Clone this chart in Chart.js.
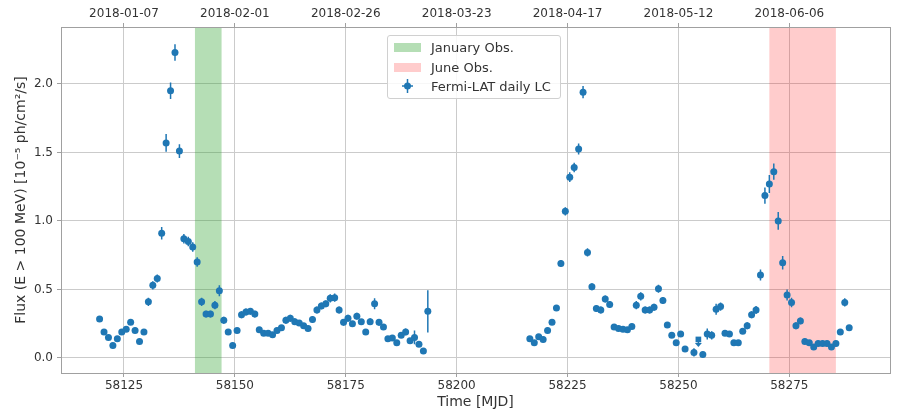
<!DOCTYPE html>
<html lang="en">
<head>
  <meta charset="UTF-8">
  <title>Fermi-LAT daily light curve</title>
  <script src="https://cdn.jsdelivr.net/npm/chart.js"></script>
  <style>
    body { margin: 0; background: #fff; }
    #wrap { position: relative; width: 900px; height: 420px; }
    #legend {
      position: absolute; left: 387px; top: 35px; width: 172px; height: 62px;
      border: 1px solid #d0d0d0; border-radius: 3px; background: rgba(255,255,255,0.85);
      font-family: "DejaVu Sans", sans-serif; font-size: 13px; color: #333;
    }
    .row { position: absolute; left: 6px; height: 20px; display: flex; align-items: center; white-space: nowrap; }
    .patch { width: 27px; height: 9px; margin-right: 10px; }
    .icon { width: 27px; height: 14px; margin-right: 10px; }
  </style>
</head>
<body>
  <div id="wrap">
    <canvas id="lc" width="900" height="420"></canvas>
    <div id="legend">
      <div class="row" style="top:1px"><span class="patch" style="background:rgba(44,160,44,0.35)"></span>January Obs.</div>
      <div class="row" style="top:21px"><span class="patch" style="background:rgba(255,0,0,0.2)"></span>June Obs.</div>
      <div class="row" style="top:40px">
        <svg class="icon" viewBox="0 0 27 14">
          <line x1="13.5" y1="0" x2="13.5" y2="14" stroke="#1f77b4" stroke-width="1.5"/>
          <line x1="8" y1="7" x2="19" y2="7" stroke="#1f77b4" stroke-width="1.5"/>
          <circle cx="13.5" cy="7" r="3.5" fill="#1f77b4"/>
        </svg>Fermi-LAT daily LC</div>
    </div>
  </div>

  <script>
    // daily bins, first bin centred on this MJD
    const firstDay = 58119.5;

    // flux per day (1e-5 ph/cm2/s), null = no detection / no data
    const flux = [
      0.285, 0.19, 0.15, 0.09, 0.14, 0.19, 0.21, 0.26, 0.20, 0.12,
      0.19, 0.41, 0.53, 0.58, 0.91, 1.57, 1.95, 2.23, 1.51, 0.87,
      0.85, 0.81, 0.70, 0.41, 0.32, 0.32, 0.385, 0.49, 0.275, 0.19,
      0.09, 0.20, 0.315, 0.335, 0.34, 0.32, 0.205, 0.18, 0.18, 0.17,
      0.20, 0.22, 0.275, 0.29, 0.265, 0.255, 0.235, 0.215, 0.28, 0.35,
      0.38, 0.395, 0.435, 0.44, 0.35, 0.26, 0.29, 0.25, 0.305, 0.265,
      0.19, 0.265, 0.395, 0.26, 0.225, 0.14, 0.145, 0.11, 0.165, 0.19,
      0.125, 0.15, 0.10, 0.05, 0.34, null, null, null, null, null,
      null, null, null, null, null, null, null, null, null, null,
      null, null, null, null, null, null, null, 0.14, 0.11, 0.155,
      0.135, 0.20, 0.26, 0.365, 0.69, 1.07, 1.32, 1.39, 1.525, 1.94,
      0.77, 0.52, 0.36, 0.35, 0.43, 0.39, 0.225, 0.215, 0.21, 0.205,
      0.23, 0.385, 0.45, 0.35, 0.35, 0.37, 0.505, 0.42, 0.24, 0.165,
      0.11, 0.175, 0.065, null, 0.04, null, 0.025, 0.175, 0.165, 0.355,
      0.375, 0.18, 0.175, 0.11, 0.11, 0.195, 0.235, 0.315, 0.35, 0.605,
      1.185, 1.27, 1.36, 1.00, 0.695, 0.46, 0.405, 0.235, 0.27, 0.12,
      0.11, 0.08, 0.105, 0.105, 0.105, 0.08, 0.105, 0.19, 0.405, 0.22
    ];

    // 1-sigma flux errors, same order as flux
    const fluxErr = [
      0.02, 0.02, 0.02, 0.02, 0.02, 0.02, 0.02, 0.02, 0.02, 0.02,
      0.02, 0.03, 0.03, 0.03, 0.045, 0.065, 0.06, 0.06, 0.05, 0.035,
      0.035, 0.035, 0.035, 0.03, 0.025, 0.025, 0.03, 0.04, 0.025, 0.02,
      0.02, 0.02, 0.025, 0.025, 0.025, 0.025, 0.02, 0.02, 0.02, 0.02,
      0.02, 0.02, 0.025, 0.025, 0.025, 0.02, 0.02, 0.02, 0.025, 0.025,
      0.025, 0.025, 0.03, 0.03, 0.025, 0.025, 0.025, 0.02, 0.025, 0.02,
      0.02, 0.025, 0.04, 0.025, 0.02, 0.02, 0.02, 0.02, 0.02, 0.025,
      0.02, 0.05, 0.02, 0.02, 0.155, null, null, null, null, null,
      null, null, null, null, null, null, null, null, null, null,
      null, null, null, null, null, null, null, 0.02, 0.02, 0.02,
      0.02, 0.02, 0.02, 0.02, 0.025, 0.03, 0.035, 0.035, 0.04, 0.045,
      0.03, 0.025, 0.025, 0.025, 0.025, 0.025, 0.02, 0.02, 0.02, 0.02,
      0.02, 0.03, 0.03, 0.025, 0.025, 0.025, 0.03, 0.025, 0.02, 0.02,
      0.02, 0.02, 0.02, null, 0.03, null, 0.02, 0.04, 0.03, 0.04,
      0.03, 0.02, 0.02, 0.02, 0.02, 0.02, 0.025, 0.025, 0.03, 0.04,
      0.06, 0.065, 0.06, 0.065, 0.05, 0.04, 0.035, 0.025, 0.025, 0.02,
      0.02, 0.02, 0.02, 0.02, 0.02, 0.02, 0.02, 0.02, 0.03, 0.02
    ];

    // upper limits
    const ulDay = [58254.5];
    const ulFlux = [0.135];

    // observation windows
    const janObs = [58141, 58147];
    const junObs = [58270.5, 58285.5];

    const xTicks = [58125, 58150, 58175, 58200, 58225, 58250, 58275];
    const yTicks = [0.0, 0.5, 1.0, 1.5, 2.0];

    const blue = '#1f77b4';
    const txt = '#333333';
    const gridCol = '#cbcbcb';

    function mjdToDate(mjd) {
      const d = new Date((mjd - 40587) * 86400000);
      return d.toISOString().slice(0, 10);
    }

    const points = [];
    const errs = [];
    flux.forEach((f, i) => {
      if (f === null) return;
      points.push({ x: firstDay + i, y: f });
      errs.push(fluxErr[i]);
    });
    const ulPoints = ulDay.map((d, i) => ({ x: d, y: ulFlux[i] }));

    // shaded windows, error bars, upper-limit arrows, frame
    const extras = {
      id: 'extras',
      beforeDatasetsDraw(chart) {
        const { ctx, chartArea: a, scales: { x, y } } = chart;
        ctx.save();
        [[janObs, 'rgba(44,160,44,0.35)'], [junObs, 'rgba(255,0,0,0.2)']].forEach(([w, c]) => {
          const x0 = x.getPixelForValue(w[0]);
          const x1 = x.getPixelForValue(w[1]);
          ctx.fillStyle = c;
          ctx.fillRect(x0, a.top, x1 - x0, a.bottom - a.top);
        });
        ctx.strokeStyle = blue;
        ctx.lineWidth = 1.5;
        ctx.beginPath();
        points.forEach((p, i) => {
          const px = x.getPixelForValue(p.x);
          ctx.moveTo(px, y.getPixelForValue(p.y - errs[i]));
          ctx.lineTo(px, y.getPixelForValue(p.y + errs[i]));
          const py = y.getPixelForValue(p.y);
          ctx.moveTo(x.getPixelForValue(p.x - 0.5), py);
          ctx.lineTo(x.getPixelForValue(p.x + 0.5), py);
        });
        ctx.stroke();
        ulPoints.forEach(p => {
          const px = x.getPixelForValue(p.x);
          const py = y.getPixelForValue(p.y);
          const tip = y.getPixelForValue(p.y - 0.055);
          ctx.beginPath();
          ctx.moveTo(px, py);
          ctx.lineTo(px, tip - 3);
          ctx.stroke();
          ctx.fillStyle = blue;
          ctx.beginPath();
          ctx.moveTo(px - 3.5, tip - 4);
          ctx.lineTo(px + 3.5, tip - 4);
          ctx.lineTo(px, tip);
          ctx.closePath();
          ctx.fill();
        });
        ctx.restore();
      },
      afterDraw(chart) {
        const { ctx, chartArea: a } = chart;
        ctx.save();
        ctx.strokeStyle = '#a0a0a0';
        ctx.lineWidth = 1;
        ctx.strokeRect(Math.round(a.left) + 0.5, Math.round(a.top) + 0.5,
          Math.round(a.right - a.left), Math.round(a.bottom - a.top));
        ctx.restore();
      }
    };

    const font = { family: 'DejaVu Sans', size: 12 };
    const xMin = 58110.8, xMax = 58297.7;

    new Chart(document.getElementById('lc'), {
      type: 'scatter',
      data: {
        datasets: [{
          label: 'Fermi-LAT daily LC',
          data: points,
          pointRadius: 3.5,
          pointHoverRadius: 3.5,
          backgroundColor: blue,
          borderWidth: 0
        }, {
          label: 'upper limits',
          data: ulPoints,
          pointStyle: 'rect',
          pointRadius: 4,
          backgroundColor: blue,
          borderWidth: 0
        }]
      },
      options: {
        responsive: false,
        animation: false,
        devicePixelRatio: 1,
        layout: { padding: { left: 0, right: 10, top: 0, bottom: 0 } },
        plugins: { legend: { display: false }, tooltip: { enabled: false } },
        scales: {
          x: {
            type: 'linear', position: 'bottom', min: xMin, max: xMax,
            afterBuildTicks: s => { s.ticks = xTicks.map(v => ({ value: v })); },
            afterFit: s => { s.height = 47; },
            ticks: { font, color: txt, padding: 2, maxRotation: 0, callback: v => String(v) },
            grid: { color: gridCol, lineWidth: 1, tickLength: 4, tickColor: '#a0a0a0' },
            border: { color: '#a0a0a0' },
            title: { display: true, text: 'Time [MJD]', color: txt,
              font: { family: 'DejaVu Sans', size: 14 }, padding: { top: 0, bottom: 9 } }
          },
          x2: {
            type: 'linear', position: 'top', min: xMin, max: xMax,
            afterBuildTicks: s => { s.ticks = xTicks.map(v => ({ value: v })); },
            afterFit: s => { s.height = 27; },
            ticks: { font, color: txt, padding: 2, maxRotation: 0, callback: v => mjdToDate(v) },
            grid: { drawOnChartArea: false, tickLength: 4, tickColor: '#a0a0a0' },
            border: { color: '#a0a0a0' }
          },
          y: {
            min: -0.11, max: 2.416,
            afterBuildTicks: s => { s.ticks = yTicks.map(v => ({ value: v })); },
            afterFit: s => { s.width = 61; },
            ticks: { font, color: txt, padding: 4, callback: v => v.toFixed(1) },
            grid: { color: gridCol, lineWidth: 1, tickLength: 4, tickColor: '#a0a0a0' },
            border: { color: '#a0a0a0' },
            title: { display: true, text: 'Flux (E > 100 MeV) [10\u207B\u2075 ph/cm\u00B2/s]', color: txt,
              font: { family: 'DejaVu Sans', size: 14 }, padding: { top: 13, bottom: 0 } }
          }
        }
      },
      plugins: [extras]
    });
  </script>
</body>
</html>
